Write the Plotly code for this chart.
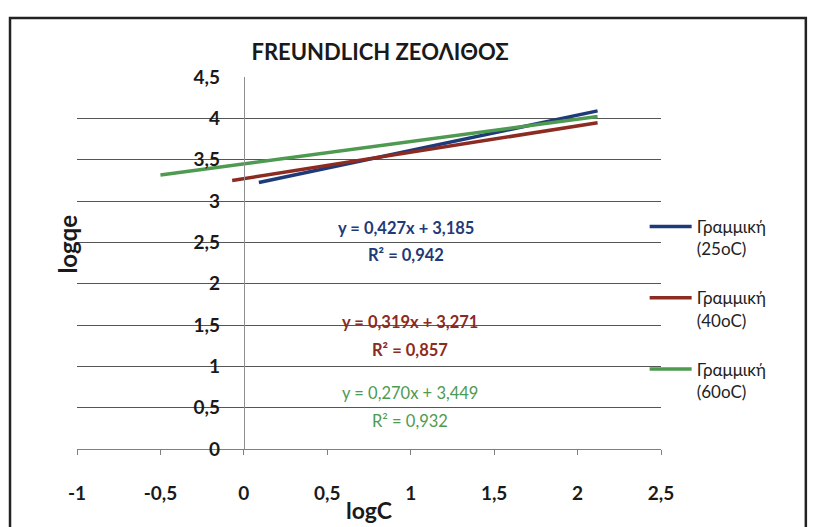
import plotly.graph_objects as go

# Trendline endpoints (logC, logqe)
series_names = ["Γραμμική<br>(25oC)", "Γραμμική<br>(40oC)", "Γραμμική<br>(60oC)"]
x_25 = [0.09, 2.12]
y_25 = [3.223, 4.090]
x_40 = [-0.07, 2.12]
y_40 = [3.249, 3.947]
x_60 = [-0.50, 2.12]
y_60 = [3.314, 4.021]
colors = ["#1F3A78", "#8B2B22", "#4E9A50"]

eq_texts = ["y = 0,427x + 3,185", "y = 0,319x + 3,271", "y = 0,270x + 3,449"]
r2_texts = ["R² = 0,942", "R² = 0,857", "R² = 0,932"]

x_ticks = [-1, -0.5, 0, 0.5, 1, 1.5, 2, 2.5]
x_ticklabels = ["-1", "-0,5", "0", "0,5", "1", "1,5", "2", "2,5"]
y_ticks = [0, 0.5, 1, 1.5, 2, 2.5, 3, 3.5, 4, 4.5]
y_ticklabels = ["0", "0,5", "1", "1,5", "2", "2,5", "3", "3,5", "4", "4,5"]

FONT = "Lato"

fig = go.Figure()
for i, (xs, ys) in enumerate([(x_25, y_25), (x_40, y_40), (x_60, y_60)]):
    fig.add_trace(go.Scatter(
        x=xs, y=ys, mode="lines", name=series_names[i],
        line=dict(color=colors[i], width=3.5),
        legendgroup=str(i),
    ))

# equation labels
eq_pos = [(0.97, 2.673, 2.347), (0.994, 1.536, 1.198), (0.994, 0.678, 0.339)]
for i, (ax, ye, yr) in enumerate(eq_pos):
    w = "bold" if i < 2 else "normal"
    fig.add_annotation(x=ax, y=ye, xref="x", yref="y", text=eq_texts[i], showarrow=False,
                       font=dict(family=FONT, size=16.5, color=colors[i], weight=w))
    fig.add_annotation(x=ax, y=yr, xref="x", yref="y", text=r2_texts[i], showarrow=False,
                       font=dict(family=FONT, size=16.5, color=colors[i], weight=w))

# chart border
fig.add_shape(type="rect", xref="paper", yref="paper", x0=-0.1147, x1=1.248, y0=-0.4, y1=1.1586,
              line=dict(color="#222222", width=2.5), fillcolor="rgba(0,0,0,0)", layer="below")

fig.update_layout(
    width=814, height=527,
    margin=dict(l=77, r=153, t=77, b=78, autoexpand=False),
    paper_bgcolor="white", plot_bgcolor="white",
    title=dict(text="<b>FREUNDLICH ΖΕΟΛΙΘΟΣ</b>", x=0.467, xanchor="center", y=0.9, yanchor="middle",
               font=dict(family=FONT, size=22, color="#1a1a1a")),
    showlegend=True,
    legend=dict(x=0.972, xanchor="left", y=0.645, yanchor="top", valign="top",
                font=dict(family=FONT, size=17, color="#222222"),
                tracegroupgap=24, itemwidth=42, bgcolor="rgba(0,0,0,0)"),
    xaxis=dict(range=[-1, 2.5], tickvals=x_ticks, ticktext=x_ticklabels,
               showgrid=False, zeroline=False, showline=True, linecolor="#808080", linewidth=1,
               ticks="outside", ticklen=5, tickcolor="#808080", ticklabelstandoff=22,
               tickfont=dict(family=FONT, size=19, color="#1a1a1a", weight="bold"),
               title=dict(text="<b>logC</b>", font=dict(family=FONT, size=23, color="#1a1a1a"), standoff=0),
               fixedrange=True),
    yaxis=dict(range=[0, 4.5], tickvals=y_ticks, ticktext=y_ticklabels,
               anchor="free", position=0.2857,
               showgrid=True, gridcolor="#555555", gridwidth=1,
               zeroline=False, showline=True, linecolor="#909090", linewidth=1,
               ticks="", ticklabelstandoff=20,
               tickfont=dict(family=FONT, size=19, color="#1a1a1a", weight="bold"),
               fixedrange=True),
)
# y-axis title placed at far left as an annotation (axis sits at x=0)
fig.add_annotation(x=-0.045, y=0.55, xref="paper", yref="paper", text="<b>logqe</b>", textangle=-90,
                   showarrow=False, font=dict(family=FONT, size=24, color="#1a1a1a"))

fig.write_html("out.html", config={"displayModeBar": False},
               post_script="document.body.style.margin='0';document.body.style.overflow='hidden';")
